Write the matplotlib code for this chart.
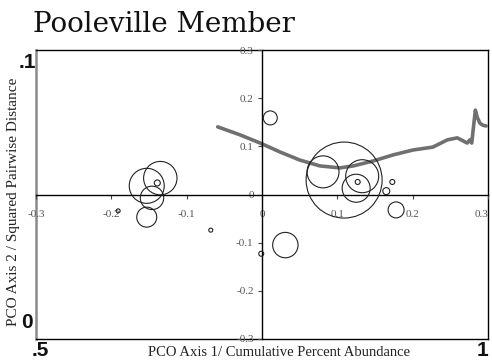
import matplotlib
matplotlib.use("Agg")
import matplotlib.pyplot as plt
import numpy as np

# Cumulative percent abundance curve (outer axes: x 0.5-1, y 0-0.1)
curve_x = [0.701, 0.726, 0.748, 0.770, 0.792, 0.814, 0.836, 0.851, 0.873, 0.895,
           0.917, 0.939, 0.955, 0.966, 0.977, 0.980, 0.982, 0.986, 0.988, 0.991,
           0.994, 0.998]
curve_y = [0.0734, 0.0706, 0.0678, 0.0647, 0.0619, 0.0599, 0.0592, 0.0599, 0.0616, 0.0637,
           0.0654, 0.0664, 0.0689, 0.0696, 0.0678, 0.0689, 0.0678, 0.0792, 0.0768, 0.0747,
           0.0740, 0.0737]

# PCO scores and bubble radii (points)
pco1 = [-0.153, -0.135, -0.139, -0.146, -0.153, -0.068, -0.191,
        0.109, 0.081, 0.133, 0.125, 0.127, 0.173, 0.165, 0.178,
        0.011, 0.031, -0.001]
pco2 = [0.018, 0.034, 0.024, -0.007, -0.047, -0.074, -0.034,
        0.030, 0.047, 0.038, 0.013, 0.026, 0.026, 0.007, -0.032,
        0.159, -0.105, -0.123]
radius = [17.5, 16.7, 3.0, 11.7, 10.0, 2.0, 2.0,
          38.0, 16.0, 16.5, 14.0, 2.5, 2.5, 3.5, 8.0,
          7.0, 12.7, 2.5]

pco_ticks = [-0.3, -0.2, -0.1, 0, 0.1, 0.2, 0.3]
pco_ticklabels = ["-0.3", "-0.2", "-0.1", "0", "0.1", "0.2", "0.3"]

W, H, DPI = 492, 360, 100
fig = plt.figure(figsize=(W / DPI, H / DPI), dpi=DPI)
rect = [36 / W, (H - 339) / H, 452 / W, 289 / H]

serif = ["Liberation Serif", "DejaVu Serif"]
sans = ["Liberation Sans", "DejaVu Sans"]

# Outer frame
ax = fig.add_axes(rect)
ax.set_xlim(0.5, 1.0)
ax.set_ylim(0.0, 0.1)
ax.set_xticks([])
ax.set_yticks([])
for s in ["top", "right", "bottom"]:
    ax.spines[s].set_color("black")
    ax.spines[s].set_linewidth(1.0)
ax.spines["left"].set_color("#8a8a8a")
ax.spines["left"].set_linewidth(1.8)
ax.plot(curve_x, curve_y, color="#707070", lw=2.6, solid_capstyle="round",
        solid_joinstyle="round", zorder=3)

# PCO axes crossing at the origin
ax2 = fig.add_axes(rect)
ax2.patch.set_alpha(0)
ax2.set_xlim(-0.3, 0.3)
ax2.set_ylim(-0.3, 0.3)
for s in ["top", "right"]:
    ax2.spines[s].set_visible(False)
ax2.spines["left"].set_position(("data", 0))
ax2.spines["bottom"].set_position(("data", 0))
ax2.spines["left"].set_linewidth(1.0)
ax2.spines["bottom"].set_linewidth(1.0)
ax2.set_xticks(pco_ticks)
ax2.set_xticklabels(pco_ticklabels)
ax2.set_yticks(pco_ticks)
ax2.set_yticklabels(pco_ticklabels)
ax2.tick_params(axis="both", length=3, width=0.8, color="#444444",
                labelsize=8, labelcolor="#555555", pad=8)
ax2.tick_params(axis="y", pad=3)
for lab in ax2.get_xticklabels() + ax2.get_yticklabels():
    lab.set_family(serif)
# keep the last x label inside the frame
ax2.get_xticklabels()[-1].set_horizontalalignment("right")

sizes = [(1.44 * r) ** 2 for r in radius]
ax2.scatter(pco1, pco2, s=sizes, facecolors="none", edgecolors="#222222",
            linewidths=0.8, zorder=4)

# Outer axis labels
bold = dict(family=sans, fontsize=15, fontweight="bold", color="#111111")
fig.text(27 / W, 1 - 62 / H, ".1", ha="center", va="center", **bold)
fig.text(27 / W, 1 - 322 / H, "0", ha="center", va="center", **bold)
fig.text(40 / W, 1 - 351 / H, ".5", ha="center", va="center", **bold)
fig.text(483 / W, 1 - 351 / H, "1", ha="center", va="center", **bold)

fig.text(279 / W, 1 - 352 / H, "PCO Axis 1/ Cumulative Percent Abundance",
         ha="center", va="center", family=serif, fontsize=10.5, color="#222222")
fig.text(14 / W, 1 - 202 / H, "PCO Axis 2 / Squared Pairwise Distance",
         ha="center", va="center", rotation=90, family=serif, fontsize=11,
         color="#222222")

fig.text(33 / W, 1 - 24 / H, "Pooleville Member", ha="left", va="center",
         family=["DejaVu Serif"], fontsize=20, color="#111111")

fig.savefig("out.png", dpi=DPI)
